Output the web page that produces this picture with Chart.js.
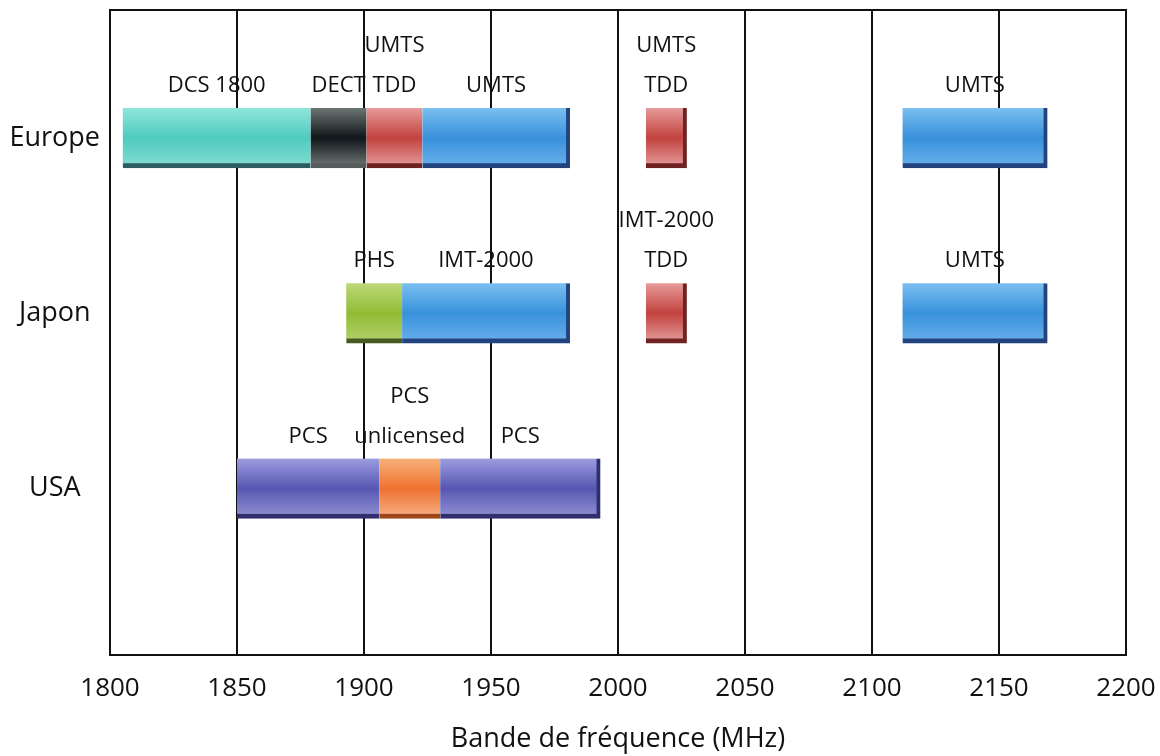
<!DOCTYPE html>
<html>
<head>
<meta charset="utf-8">
<script src="https://cdn.jsdelivr.net/npm/chart.js@4/dist/chart.umd.min.js"></script>
<style>
  html, body { margin: 0; padding: 0; background: #fff; }
  #wrap { width: 1160px; height: 756px; }
</style>
</head>
<body>
<div id="wrap"><canvas id="freq-chart"></canvas></div>
<script>
'use strict';

// regions on the vertical axis
var regions = ['Europe', 'Japon', 'USA'];
var rowValues = [3, 2, 1];

// frequency bands (MHz)
var bandLabels = ['DCS 1800', 'DECT', 'UMTS\nTDD', 'UMTS', 'UMTS\nTDD', 'UMTS',
                  'PHS', 'IMT-2000', 'IMT-2000\nTDD', 'UMTS',
                  'PCS', 'PCS\nunlicensed', 'PCS'];
var bandRegion = ['Europe', 'Europe', 'Europe', 'Europe', 'Europe', 'Europe',
                  'Japon', 'Japon', 'Japon', 'Japon',
                  'USA', 'USA', 'USA'];
var bandStart = [1805, 1879, 1901, 1923, 2011, 2112, 1893, 1915, 2011, 2112, 1850, 1906, 1930];
var bandEnd   = [1879, 1901, 1923, 1981, 2027, 2169, 1915, 1981, 2027, 2169, 1906, 1930, 1993];
var bandKind  = ['dcs', 'dect', 'tdd', 'umts', 'tdd', 'umts', 'phs', 'umts', 'tdd', 'umts', 'pcs', 'pcsu', 'pcs'];

// x axis
var freqMin = 1800;
var freqMax = 2200;
var freqStep = 50;

// colours: top, middle, bottom, shadow
var kindColors = {
  dcs:  ['#8fe6dc', '#4fcabf', '#86ddd3', '#2b5c60'],
  dect: ['#6b7573', '#101619', '#737a79', '#555c5b'],
  tdd:  ['#e79a9a', '#c2423f', '#e5a0a0', '#6e2222'],
  umts: ['#7bbff0', '#3891dc', '#6cb1ea', '#23437e'],
  phs:  ['#bcd878', '#93bb35', '#b4d270', '#445a20'],
  pcs:  ['#9c9ce0', '#5757b3', '#9393d6', '#2f2f70'],
  pcsu: ['#f8b079', '#ef7230', '#f6b287', '#a0441a']
};

var barHeight = 60;
var fontName = '"Open Sans", "DejaVu Sans", sans-serif';

function rowOf(i) {
  return rowValues[regions.indexOf(bandRegion[i])];
}

// a band gets a right shadow only if nothing continues it on the same row
function endsGroup(i) {
  for (var j = 0; j < bandStart.length; j++) {
    if (j !== i && bandRegion[j] === bandRegion[i] && bandStart[j] === bandEnd[i]) return false;
  }
  return true;
}

var bandData = bandStart.map(function (s, i) {
  return { x: [s, bandEnd[i]], y: rowOf(i) };
});

function bandFill(c) {
  var cols = kindColors[bandKind[c.dataIndex]];
  var chart = c.chart;
  if (!chart.chartArea || !chart.scales.y) return cols[1];
  var cy = chart.scales.y.getPixelForValue(rowOf(c.dataIndex));
  var g = chart.ctx.createLinearGradient(0, cy - barHeight / 2, 0, cy + barHeight / 2);
  g.addColorStop(0, cols[0]);
  g.addColorStop(0.5, cols[1]);
  g.addColorStop(1, cols[2]);
  return g;
}

// black frame round the plot
var framePlugin = {
  id: 'frame',
  afterDraw: function (chart) {
    var a = chart.chartArea, ctx = chart.ctx;
    ctx.save();
    ctx.strokeStyle = '#111';
    ctx.lineWidth = 2;
    ctx.strokeRect(a.left, a.top, a.right - a.left, a.bottom - a.top);
    ctx.restore();
  }
};

// band names written above each bar
var bandLabelPlugin = {
  id: 'bandLabels',
  afterDatasetsDraw: function (chart) {
    var ctx = chart.ctx;
    var meta = chart.getDatasetMeta(0);
    ctx.save();
    ctx.font = '22px ' + fontName;
    ctx.fillStyle = '#111';
    ctx.textAlign = 'center';
    ctx.textBaseline = 'middle';
    meta.data.forEach(function (el, i) {
      var cx = (el.x + el.base) / 2;
      var top = el.y - el.height / 2;
      var lines = bandLabels[i].split('\n');
      lines.forEach(function (line, k) {
        var off = (lines.length - 1 - k) * 40;
        ctx.fillText(line, cx, top - 22 - off);
      });
    });
    ctx.restore();
  }
};

var ctx = document.getElementById('freq-chart').getContext('2d');
var freqChart = new Chart(ctx, {
  type: 'bar',
  data: {
    datasets: [{
      label: 'Bandes',
      data: bandData,
      backgroundColor: bandFill,
      borderColor: function (c) { return kindColors[bandKind[c.dataIndex]][3]; },
      borderWidth: function (c) {
        return { top: 0, left: 0, bottom: 5, right: endsGroup(c.dataIndex) ? 4 : 0 };
      },
      borderSkipped: false,
      barThickness: barHeight
    }]
  },
  options: {
    indexAxis: 'y',
    responsive: true,
    maintainAspectRatio: false,
    animation: false,
    layout: { padding: { top: 10, right: 34, bottom: 0, left: 0 } },
    plugins: {
      legend: { display: false },
      tooltip: { enabled: false }
    },
    scales: {
      x: {
        type: 'linear',
        min: freqMin,
        max: freqMax,
        afterFit: function (axis) {
          axis.height = 101;
          axis.paddingLeft = 0;
          axis.paddingRight = 0;
        },
        ticks: {
          stepSize: freqStep,
          padding: 18,
          color: '#111',
          font: { family: fontName, size: 26 },
          callback: function (v) { return String(v); }
        },
        grid: { color: '#111', lineWidth: 2, drawTicks: false },
        border: { color: '#111', width: 2 },
        title: {
          display: true,
          text: 'Bande de fréquence (MHz)',
          color: '#111',
          font: { family: fontName, size: 27 },
          padding: { top: 0, bottom: 0 }
        }
      },
      y: {
        type: 'linear',
        offset: false,
        min: 0.05,
        max: 3.73,
        afterBuildTicks: function (axis) {
          axis.ticks = rowValues.map(function (v) { return { value: v }; });
        },
        afterFit: function (axis) {
          axis.width = 110;
          axis.paddingTop = 0;
          axis.paddingBottom = 0;
        },
        ticks: {
          crossAlign: 'center',
          padding: 10,
          color: '#111',
          font: { family: fontName, size: 27 },
          callback: function (v) { return regions[rowValues.indexOf(v)]; }
        },
        grid: { display: false, drawTicks: false },
        border: { color: '#111', width: 2 }
      }
    }
  },
  plugins: [framePlugin, bandLabelPlugin]
});
</script>
</body>
</html>
